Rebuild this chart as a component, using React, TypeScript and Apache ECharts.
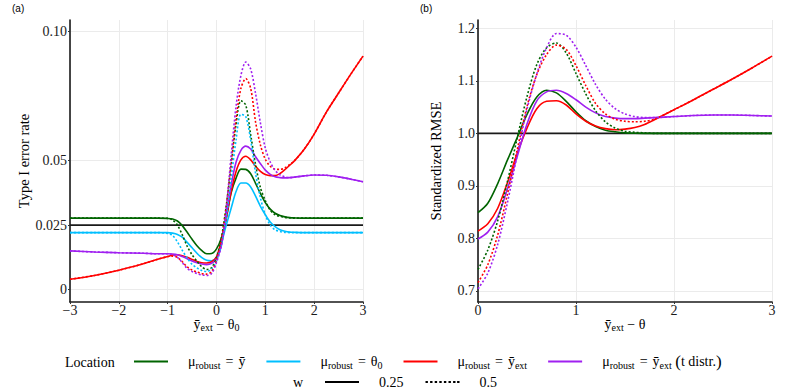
import React, { useEffect, useRef } from 'react';
import * as echarts from 'echarts';

const FONT = '"Liberation Serif", "Times New Roman", serif';

// ---------- Panel (a): Type I error rate ----------
const leftX = [-3, -2.5, -2, -1.5, -1.2, -1.0, -0.9, -0.8, -0.7, -0.6, -0.5, -0.4, -0.3, -0.2, -0.1, 0, 0.1, 0.2, 0.3, 0.4, 0.5, 0.6, 0.7, 0.8, 0.9, 1.0, 1.1, 1.2, 1.3, 1.4, 1.5, 1.6, 1.8, 2.0, 2.25, 2.5, 2.75, 3.0];

const leftGreenSolid = [0.0277, 0.0277, 0.0277, 0.0277, 0.0277, 0.0276, 0.0274, 0.0266, 0.0248, 0.0222, 0.0195, 0.0170, 0.0151, 0.0139, 0.0140, 0.0158, 0.0200, 0.0275, 0.0375, 0.0432, 0.0467, 0.0466, 0.0449, 0.0412, 0.0372, 0.0337, 0.0312, 0.0296, 0.0287, 0.0282, 0.0279, 0.0278, 0.0277, 0.0277, 0.0277, 0.0277, 0.0277, 0.0277];
const leftGreenDotted = [0.0277, 0.0277, 0.0277, 0.0277, 0.0277, 0.0276, 0.0270, 0.0250, 0.0212, 0.0168, 0.0135, 0.0110, 0.0088, 0.0078, 0.0085, 0.0124, 0.0200, 0.0325, 0.0480, 0.0640, 0.0732, 0.0715, 0.0600, 0.0485, 0.0395, 0.0345, 0.0308, 0.0290, 0.0284, 0.0280, 0.0278, 0.0277, 0.0277, 0.0277, 0.0277, 0.0277, 0.0277, 0.0277];
const leftCyanSolid = [0.0221, 0.0221, 0.0221, 0.0221, 0.0221, 0.0221, 0.0219, 0.0214, 0.0203, 0.0183, 0.0162, 0.0141, 0.0124, 0.0114, 0.0112, 0.0125, 0.0180, 0.0250, 0.0315, 0.0380, 0.0413, 0.0413, 0.0398, 0.0362, 0.0323, 0.0290, 0.0262, 0.0244, 0.0232, 0.0226, 0.0223, 0.0222, 0.0221, 0.0221, 0.0221, 0.0221, 0.0221, 0.0221];
const leftCyanDotted = [0.0221, 0.0221, 0.0221, 0.0221, 0.0221, 0.0218, 0.0210, 0.0185, 0.0152, 0.0122, 0.0098, 0.0084, 0.0074, 0.0070, 0.0080, 0.0111, 0.0175, 0.0285, 0.0430, 0.0580, 0.0680, 0.0670, 0.0580, 0.0450, 0.0355, 0.0290, 0.0250, 0.0232, 0.0225, 0.0222, 0.0221, 0.0221, 0.0221, 0.0221, 0.0221, 0.0221, 0.0221, 0.0221];
const leftRedSolid = [0.0040, 0.0055, 0.0075, 0.0100, 0.0118, 0.0128, 0.0134, 0.0135, 0.0131, 0.0125, 0.0117, 0.0109, 0.0104, 0.0103, 0.0108, 0.0127, 0.0190, 0.0280, 0.0380, 0.0458, 0.0503, 0.0517, 0.0503, 0.0478, 0.0458, 0.0446, 0.0442, 0.0442, 0.0450, 0.0465, 0.0482, 0.0500, 0.0545, 0.0603, 0.0688, 0.0762, 0.0835, 0.0905];
const leftRedDotted = [0.0040, 0.0055, 0.0075, 0.0100, 0.0118, 0.0128, 0.0130, 0.0125, 0.0108, 0.0088, 0.0076, 0.0068, 0.0062, 0.0060, 0.0070, 0.0115, 0.0190, 0.0320, 0.0490, 0.0660, 0.0780, 0.0818, 0.0780, 0.0650, 0.0560, 0.0505, 0.0478, 0.0467, 0.0466, 0.0472, 0.0485, 0.0500, 0.0545, 0.0603, 0.0688, 0.0762, 0.0835, 0.0905];
const leftPurpleSolid = [0.0150, 0.0146, 0.0143, 0.0141, 0.0139, 0.0139, 0.0138, 0.0135, 0.0128, 0.0120, 0.0111, 0.0104, 0.0099, 0.0097, 0.0102, 0.0120, 0.0170, 0.0287, 0.0405, 0.0494, 0.0540, 0.0556, 0.0545, 0.0515, 0.0488, 0.0463, 0.0447, 0.0437, 0.0434, 0.0433, 0.0434, 0.0436, 0.0441, 0.0444, 0.0443, 0.0437, 0.0428, 0.0418];
const leftPurpleDotted = [0.0150, 0.0146, 0.0143, 0.0141, 0.0139, 0.0139, 0.0136, 0.0125, 0.0105, 0.0082, 0.0070, 0.0062, 0.0057, 0.0055, 0.0062, 0.0105, 0.0172, 0.0315, 0.0520, 0.0710, 0.0830, 0.0882, 0.0855, 0.0760, 0.0645, 0.0548, 0.0495, 0.0462, 0.0445, 0.0437, 0.0434, 0.0436, 0.0441, 0.0444, 0.0443, 0.0437, 0.0428, 0.0418];
const leftReference = 0.025;

const leftXTicks = [-3, -2, -1, 0, 1, 2, 3];
const leftYTicks = [0, 0.025, 0.05, 0.1];
const leftYTickLabels = ['0', '0.025', '0.05', '0.10'];

// ---------- Panel (b): Standardized RMSE ----------
const rightX = [0, 0.1, 0.2, 0.3, 0.4, 0.5, 0.6, 0.7, 0.8, 0.9, 1.0, 1.1, 1.2, 1.3, 1.4, 1.5, 1.6, 1.7, 1.8, 2.0, 2.2, 2.4, 2.6, 2.8, 3.0];

const rightGreenSolid = [0.849, 0.867, 0.904, 0.949, 0.992, 1.036, 1.069, 1.082, 1.077, 1.061, 1.041, 1.024, 1.013, 1.006, 1.003, 1.001, 1.0003, 1.0, 1.0, 1.0, 1.0, 1.0, 1.0, 1.0, 1.0];
const rightGreenDotted = [0.741, 0.778, 0.833, 0.908, 0.991, 1.070, 1.131, 1.163, 1.172, 1.153, 1.114, 1.075, 1.043, 1.022, 1.010, 1.004, 1.002, 1.001, 1.0, 1.0, 1.0, 1.0, 1.0, 1.0, 1.0];
const rightRedSolid = [0.814, 0.828, 0.857, 0.906, 0.962, 1.010, 1.047, 1.061, 1.062, 1.054, 1.037, 1.023, 1.014, 1.009, 1.007, 1.008, 1.011, 1.017, 1.026, 1.045, 1.064, 1.084, 1.104, 1.125, 1.147];
const rightRedDotted = [0.716, 0.750, 0.806, 0.884, 0.969, 1.051, 1.112, 1.150, 1.168, 1.160, 1.129, 1.091, 1.057, 1.037, 1.027, 1.023, 1.022, 1.023, 1.027, 1.045, 1.064, 1.084, 1.104, 1.125, 1.147];
const rightPurpleSolid = [0.799, 0.812, 0.841, 0.894, 0.956, 1.018, 1.062, 1.079, 1.082, 1.076, 1.064, 1.050, 1.039, 1.032, 1.029, 1.028, 1.028, 1.029, 1.030, 1.032, 1.034, 1.035, 1.035, 1.034, 1.033];
const rightPurpleDotted = [0.704, 0.734, 0.788, 0.868, 0.959, 1.046, 1.113, 1.163, 1.190, 1.187, 1.164, 1.129, 1.093, 1.065, 1.047, 1.037, 1.032, 1.030, 1.030, 1.032, 1.034, 1.035, 1.035, 1.034, 1.033];
const rightReference = 1.0;

const rightXTicks = [0, 1, 2, 3];
const rightYTicks = [0.7, 0.8, 0.9, 1.0, 1.1, 1.2];

// ---------- legend ----------
const N_YBAR = 'μrobust = ȳ';
const N_THETA0 = 'μrobust = θ0';
const N_YEXT = 'μrobust = ȳext';
const N_YEXT_T = 'μrobust = ȳext (t distr.)';
const W_LABELS = ['0.25', '0.5'];

const COLORS = {
  green: '#006400',
  cyan: '#00BFFF',
  red: '#FF0000',
  purple: '#A020F0',
};

const RICH_LABELS: Record<string, string> = {
  [N_YBAR]: '{sp| }{m|μ}{s|robust}{eq|=}{m|ȳ}',
  [N_THETA0]: '{sp| }{m|μ}{s|robust}{eq|=}{m|θ}{s|0}',
  [N_YEXT]: '{sp| }{m|μ}{s|robust}{eq|=}{m|ȳ}{s|ext}',
  [N_YEXT_T]: '{sp| }{m|μ}{s|robust}{eq|=}{m|ȳ}{s|ext}{m| }{p|(}{m|t distr.}{p|)}',
  '0.25': '{sp| }{m|0.25}',
  '0.5': '{sp| }{m|0.5}',
};

const RICH = {
  m: { fontSize: 14, fontFamily: FONT, color: '#000' },
  eq: { fontSize: 14, fontFamily: FONT, color: '#000', padding: [0, 5, 0, 5] },
  s: { fontSize: 10, fontFamily: FONT, color: '#000', padding: [7, 0, 0, 0] },
  p: { fontSize: 17, fontFamily: FONT, color: '#000' },
  sp: { width: 15 },
};

// tighter rich styles for the x-axis titles
const TITLE_RICH = {
  m: { fontSize: 14, lineHeight: 14, fontFamily: FONT, color: '#000' },
  s: { fontSize: 10, lineHeight: 10, fontFamily: FONT, color: '#000', padding: [6, 0, 0, 0] },
};

// dashed legend glyph (34 x 2 box)
const DOTTED_ICON = 'path://M0,0h2.4v2h-2.4z M4.6,0h2.4v2h-2.4z M9.2,0h2.4v2h-2.4z M13.8,0h2.4v2h-2.4z M18.4,0h2.4v2h-2.4z M23,0h2.4v2h-2.4z M27.6,0h2.4v2h-2.4z M31.6,0h2.4v2h-2.4z';

const SOLID = 1.6;
const DOT: number[] = [2, 2];

function pairs(xs: number[], ys: number[]) {
  return xs.map((x, i) => [x, ys[i]]);
}

function curve(name: string, color: string, dotted: boolean, xs: number[], ys: number[], idx: number) {
  return {
    type: 'line',
    name,
    xAxisIndex: idx,
    yAxisIndex: idx,
    data: pairs(xs, ys),
    symbol: 'none',
    smooth: 0.3,
    lineStyle: { color, width: SOLID, type: dotted ? DOT : 'solid' },
    itemStyle: { color },
    z: dotted ? 3 : 2,
  };
}

function refLine(xs: number[], value: number, idx: number) {
  return {
    type: 'line',
    name: 'reference',
    xAxisIndex: idx,
    yAxisIndex: idx,
    data: [[xs[0], value], [xs[xs.length - 1], value]],
    symbol: 'none',
    lineStyle: { color: '#1a1a1a', width: 1.6 },
    z: 1,
    silent: true,
  };
}

const axisLineStyle = { show: true, onZero: false, lineStyle: { color: '#1a1a1a', width: 1.6 } };
const gridLine = { show: true, lineStyle: { color: '#ebebeb', width: 1 } };
const tickLabel = { fontFamily: FONT, fontSize: 14, color: '#1a1a1a' };

const fmtX = (v: number) => (v < 0 ? '\u2212' + Math.abs(v) : String(v));

const legendText = { fontFamily: FONT, fontSize: 14, color: '#000', rich: RICH };

const option = {
  animation: false,
  backgroundColor: '#ffffff',
  grid: [
    { left: 70, right: 430, top: 20, bottom: 87 },
    { left: 478, right: 21, top: 20, bottom: 87 },
  ],
  xAxis: [
    {
      type: 'value', gridIndex: 0, min: -3, max: 3, interval: 1,
      axisLine: axisLineStyle,
      axisTick: { show: true, length: 2, lineStyle: { color: '#333' } },
      splitLine: gridLine,
      axisLabel: { ...tickLabel, margin: 1, formatter: fmtX, customValues: leftXTicks },
      name: '{m|ȳ}{s|ext}{m| \u2212 θ}{s|0}',
      nameLocation: 'middle', nameGap: 15, nameMoveOverlap: false,
      nameTextStyle: { rich: TITLE_RICH },
    },
    {
      type: 'value', gridIndex: 1, min: 0, max: 3, interval: 1,
      axisLine: axisLineStyle,
      axisTick: { show: true, length: 2, lineStyle: { color: '#333' } },
      splitLine: gridLine,
      axisLabel: { ...tickLabel, margin: 1, formatter: fmtX, customValues: rightXTicks },
      name: '{m|ȳ}{s|ext}{m| \u2212 θ}',
      nameLocation: 'middle', nameGap: 15, nameMoveOverlap: false,
      nameTextStyle: { rich: TITLE_RICH },
    },
  ],
  yAxis: [
    {
      type: 'value', gridIndex: 0, min: -0.0048, max: 0.1045,
      axisLine: axisLineStyle,
      axisTick: { show: true, length: 2, customValues: leftYTicks, lineStyle: { color: '#333' } },
      splitLine: gridLine,
      axisLabel: {
        ...tickLabel, margin: 3, customValues: leftYTicks,
        formatter: (v: number) => {
          const i = leftYTicks.findIndex((t) => Math.abs(t - v) < 1e-9);
          return i >= 0 ? leftYTickLabels[i] : '';
        },
      },
      name: 'Type I error rate',
      nameLocation: 'middle', nameGap: 35,
      nameTextStyle: { fontFamily: FONT, fontSize: 14.5, color: '#000' },
    },
    {
      type: 'value', gridIndex: 1, min: 0.679, max: 1.2158,
      axisLine: axisLineStyle,
      axisTick: { show: true, length: 2, customValues: rightYTicks, lineStyle: { color: '#333' } },
      splitLine: gridLine,
      axisLabel: { ...tickLabel, margin: 3, customValues: rightYTicks, formatter: (v: number) => v.toFixed(1) },
      name: 'Standardized RMSE',
      nameLocation: 'middle', nameGap: 35,
      nameTextStyle: { fontFamily: FONT, fontSize: 14.5, color: '#000' },
    },
  ],
  legend: [
    {
      data: [N_YBAR, N_THETA0, N_YEXT, N_YEXT_T].map((n) => ({ name: n, icon: 'rect' })),
      left: 134, top: 353, padding: 0,
      itemWidth: 34, itemHeight: 2, itemGap: 21,
      selectedMode: false,
      formatter: (name: string) => RICH_LABELS[name],
      textStyle: legendText,
    },
    {
      data: [
        { name: W_LABELS[0], icon: 'rect' },
        { name: W_LABELS[1], icon: DOTTED_ICON },
      ],
      left: 325, top: 375, padding: 0,
      itemWidth: 34, itemHeight: 2, itemGap: 22,
      selectedMode: false,
      formatter: (name: string) => RICH_LABELS[name],
      textStyle: legendText,
    },
  ],
  graphic: [
    { type: 'text', left: 12, top: 3, style: { text: '(a)', font: '10px "Liberation Sans", Arial, sans-serif', fill: '#000' } },
    { type: 'text', left: 420, top: 3, style: { text: '(b)', font: '10px "Liberation Sans", Arial, sans-serif', fill: '#000' } },
    { type: 'text', left: 65, top: 355, style: { text: 'Location', font: '14px ' + FONT, fill: '#000' } },
    { type: 'text', left: 293, top: 375, style: { text: 'w', font: '14px ' + FONT, fill: '#000' } },
  ],
  series: [
    refLine(leftX, leftReference, 0),
    curve(N_YBAR, COLORS.green, false, leftX, leftGreenSolid, 0),
    curve(N_YBAR, COLORS.green, true, leftX, leftGreenDotted, 0),
    curve(N_THETA0, COLORS.cyan, false, leftX, leftCyanSolid, 0),
    curve(N_THETA0, COLORS.cyan, true, leftX, leftCyanDotted, 0),
    curve(N_YEXT, COLORS.red, false, leftX, leftRedSolid, 0),
    curve(N_YEXT, COLORS.red, true, leftX, leftRedDotted, 0),
    curve(N_YEXT_T, COLORS.purple, false, leftX, leftPurpleSolid, 0),
    curve(N_YEXT_T, COLORS.purple, true, leftX, leftPurpleDotted, 0),
    refLine(rightX, rightReference, 1),
    curve(N_YBAR, COLORS.green, false, rightX, rightGreenSolid, 1),
    curve(N_YBAR, COLORS.green, true, rightX, rightGreenDotted, 1),
    curve(N_YEXT, COLORS.red, false, rightX, rightRedSolid, 1),
    curve(N_YEXT, COLORS.red, true, rightX, rightRedDotted, 1),
    curve(N_YEXT_T, COLORS.purple, false, rightX, rightPurpleSolid, 1),
    curve(N_YEXT_T, COLORS.purple, true, rightX, rightPurpleDotted, 1),
    { type: 'line', name: '0.25', xAxisIndex: 0, yAxisIndex: 0, data: [], symbol: 'none', lineStyle: { color: '#000', width: 2, type: 'solid' }, itemStyle: { color: '#000' } },
    { type: 'line', name: '0.5', xAxisIndex: 0, yAxisIndex: 0, data: [], symbol: 'none', lineStyle: { color: '#000', width: 2, type: DOT }, itemStyle: { color: '#000' } },
  ],
};

export default function App() {
  const ref = useRef<HTMLDivElement>(null);
  useEffect(() => {
    if (!ref.current) return;
    const chart = echarts.init(ref.current, null, { renderer: 'svg' });
    chart.setOption(option as any);
    return () => chart.dispose();
  }, []);
  return (
    <div
      ref={ref}
      style={{ position: 'absolute', left: 0, top: 0, width: 793, height: 389, background: '#fff' }}
    />
  );
}
